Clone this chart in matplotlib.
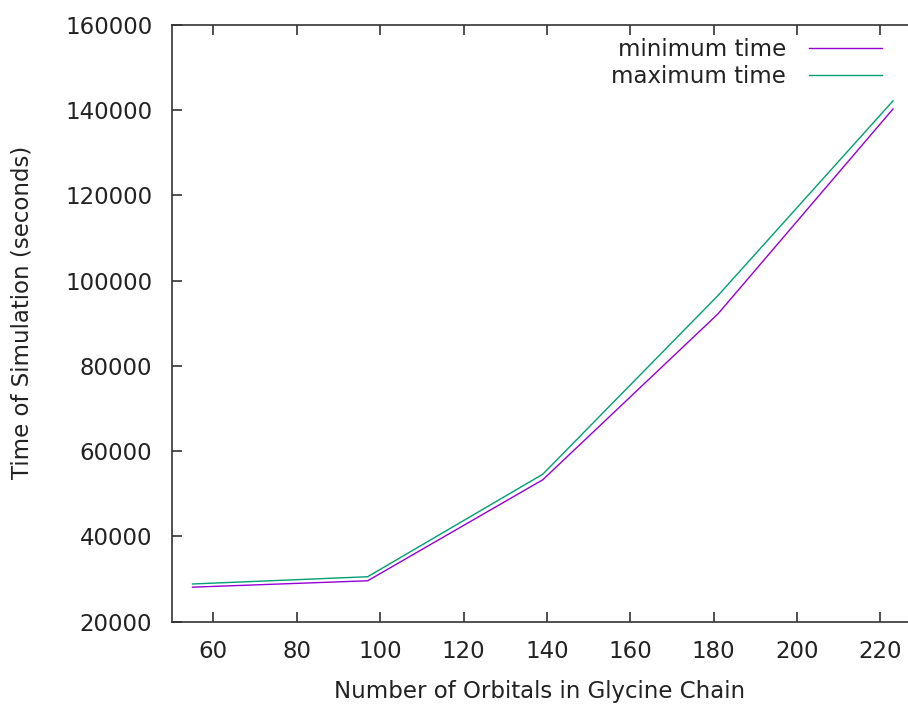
import matplotlib
matplotlib.use("Agg")
import matplotlib.pyplot as plt

orbitals = [55, 97, 139, 181, 223]
min_time = [28100, 29600, 53300, 92200, 140300]
max_time = [28850, 30550, 54600, 96500, 142200]

plt.rcParams["font.family"] = "DejaVu Sans"
plt.rcParams["font.size"] = 16.5

fig = plt.figure(figsize=(9.08, 7.04), dpi=100)
ax = fig.add_axes([171.7 / 908, 1 - 621.7 / 704, 1 - 171.7 / 908, (621.7 - 25) / 704])

ax.plot(orbitals, min_time, color="#9400d3", lw=1.0, label="minimum time")
ax.plot(orbitals, max_time, color="#009e73", lw=1.0, label="maximum time")

ax.set_xlim(50, 226.6)
ax.set_ylim(20000, 160000)
ax.set_xticks(range(60, 221, 20))
ax.set_yticks(range(20000, 160001, 20000))
ax.spines["right"].set_visible(False)
for s in ax.spines.values():
    s.set_color("#333333")
    s.set_linewidth(1.2)
ax.tick_params(direction="in", length=7, width=1.2, color="#333333",
               top=True, right=False, labelcolor="#222222")
ax.tick_params(axis="x", pad=13)
ax.tick_params(axis="y", pad=14)

ax.set_xlabel("Number of Orbitals in Glycine Chain", color="#222222")
ax.set_ylabel("Time of Simulation (seconds)", color="#222222")
ax.xaxis.set_label_coords(0.5, -0.098)
ax.yaxis.set_label_coords(-0.188, 0.518)

ax.legend(loc="upper right", bbox_to_anchor=(1 - 12 / 736, 1.002),
          frameon=False, markerfirst=False,
          handlelength=3.2, handletextpad=1.0, labelspacing=0.2,
          borderaxespad=0.3, borderpad=0.3, labelcolor="#222222")

plt.savefig("out.png", dpi=100)
